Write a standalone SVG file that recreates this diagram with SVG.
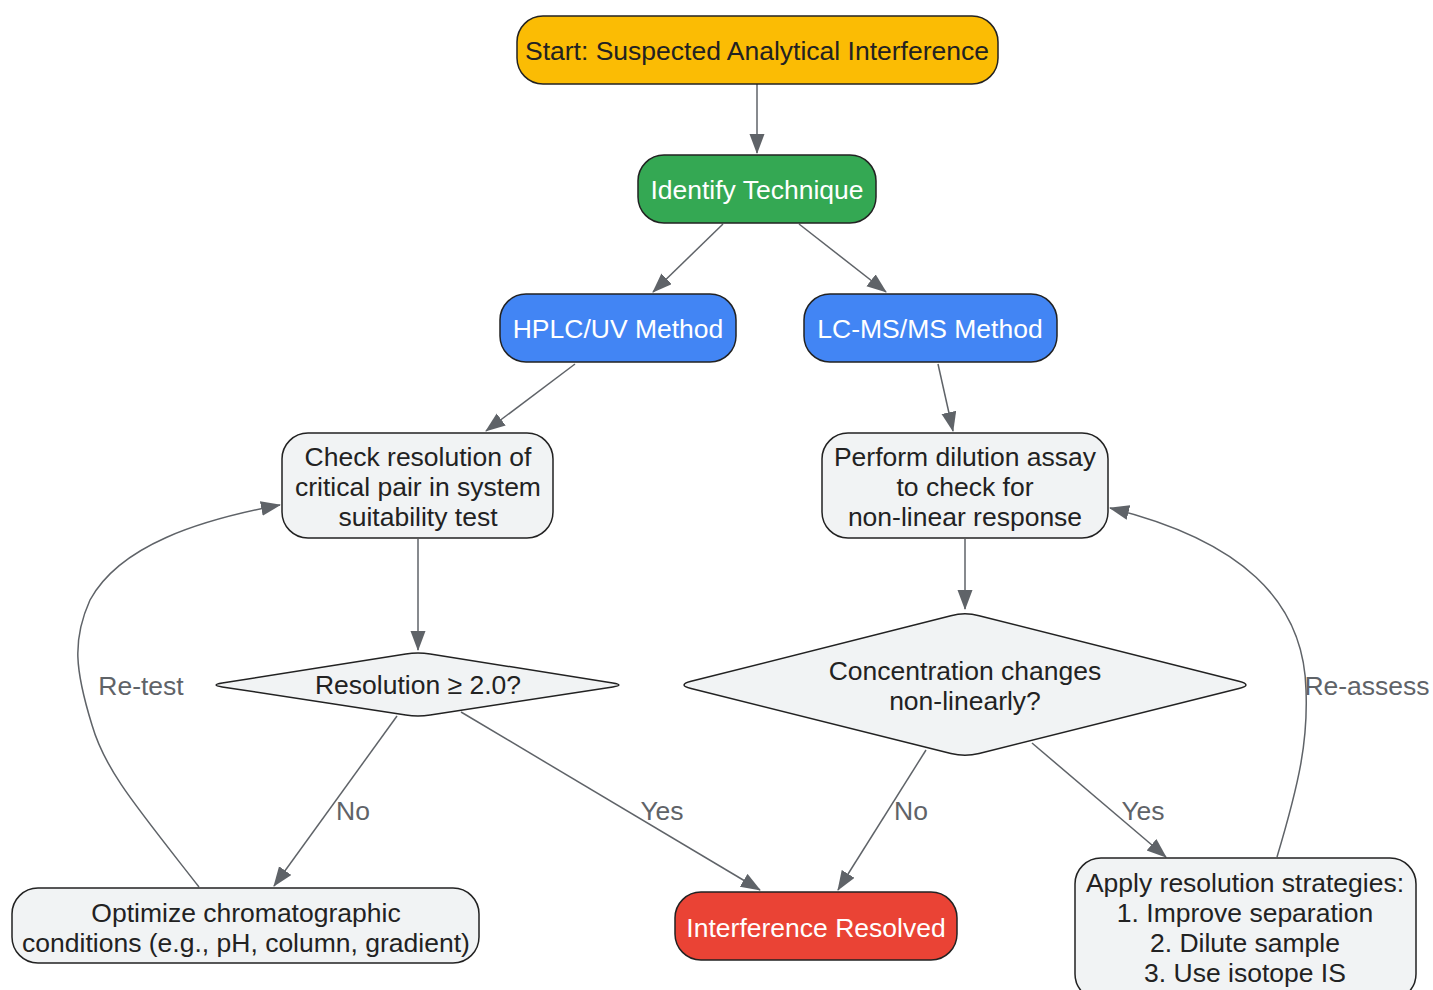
<svg xmlns="http://www.w3.org/2000/svg" width="1433" height="990" viewBox="0 0 1433 990">
<style>
  .node rect, .node path { stroke: #222; stroke-width: 1.5; }
  .t { font-family: "Liberation Sans", Arial, sans-serif; font-size: 26.5px; text-anchor: middle; }
  .dark { fill: #222; }
  .light { fill: #fff; }
  .grey { fill: #f1f3f4; }
  .edge { fill: none; stroke: #5f6368; stroke-width: 1.5; marker-end: url(#arr); }
  .lbl { font-family: "Liberation Sans", Arial, sans-serif; font-size: 26.5px; fill: #5f6368; text-anchor: middle; }
</style>
<defs>
  <marker id="arr" markerUnits="userSpaceOnUse" markerWidth="20" markerHeight="16" refX="19" refY="7.5" orient="auto">
    <path d="M0,0 L20,7.5 L0,15 z" fill="#5f6368"/>
  </marker>
</defs>
<rect width="1433" height="990" fill="#fff"/>
<g id="connectors">
  <path class="edge" d="M757,84 L757,153"/>
  <path class="edge" d="M723,224 L653,292"/>
  <path class="edge" d="M799,224 L886,292"/>
  <path class="edge" d="M575,364 L486,431"/>
  <path class="edge" d="M938,364 L953,431"/>
  <path class="edge" d="M418,539 L418,650"/>
  <path class="edge" d="M965,539 L965,609"/>
  <path class="edge" d="M397,716 L274,886"/>
  <path class="edge" d="M461,712 L760,890"/>
  <path class="edge" d="M926,750 L838,890"/>
  <path class="edge" d="M1032,743 L1166,857"/>
  <path class="edge" d="M199,887 C135,805 105,770 92,725 C75,670 72,640 90,600 C120,545 200,520 280,505"/>
  <path class="edge" d="M1277,857 C1300,780 1308,740 1306,690 C1304,600 1240,540 1110,508"/>
  <text class="lbl" x="353" y="820">No</text>
  <text class="lbl" x="662" y="820">Yes</text>
  <text class="lbl" x="911" y="820">No</text>
  <text class="lbl" x="1143" y="820">Yes</text>
  <text class="lbl" x="141" y="695">Re-test</text>
  <text class="lbl" x="1367" y="695">Re-assess</text>
</g>
<g id="start" class="node">
  <rect x="517" y="16" width="481" height="68" rx="26" fill="#fbbc04"/>
  <text class="t dark" x="757" y="60">Start: Suspected Analytical Interference</text>
</g>
<g id="identify" class="node">
  <rect x="638" y="155" width="238" height="68" rx="26" fill="#34a853"/>
  <text class="t light" x="757" y="199">Identify Technique</text>
</g>
<g id="hplc" class="node">
  <rect x="500" y="294" width="236" height="68" rx="26" fill="#4285f4"/>
  <text class="t light" x="618" y="338">HPLC/UV Method</text>
</g>
<g id="lcms" class="node">
  <rect x="804" y="294" width="253" height="68" rx="26" fill="#4285f4"/>
  <text class="t light" x="930" y="338">LC-MS/MS Method</text>
</g>
<g id="check" class="node">
  <rect x="282" y="433" width="271" height="105" rx="26" class="grey"/>
  <text class="t dark" x="418" y="466">Check resolution of</text>
  <text class="t dark" x="418" y="496">critical pair in system</text>
  <text class="t dark" x="418" y="526">suitability test</text>
</g>
<g id="perform" class="node">
  <rect x="822" y="433" width="286" height="105" rx="26" class="grey"/>
  <text class="t dark" x="965" y="466">Perform dilution assay</text>
  <text class="t dark" x="965" y="496">to check for</text>
  <text class="t dark" x="965" y="526">non-linear response</text>
</g>
<g id="resolution" class="node">
  <path class="grey" d="M222.2,683 L405.8,654 Q418,652 430.2,654 L612.8,683 Q625,685 612.8,686.9 L430.2,715.1 Q418,717 405.8,715.1 L222.2,686.9 Q210,685 222.2,683 Z"/>
  <text class="t dark" x="418" y="694">Resolution ≥ 2.0?</text>
</g>
<g id="concentration" class="node">
  <path class="grey" d="M691.1,681.35 L950.9,615.65 Q965,612 979.1,615.65 L1238.9,681.35 Q1253,685 1238.9,688.6 L979.1,753.4 Q965,757 950.9,753.4 L691.1,688.6 Q677,685 691.1,681.35 Z"/>
  <text class="t dark" x="965" y="680">Concentration changes</text>
  <text class="t dark" x="965" y="710">non-linearly?</text>
</g>
<g id="optimize" class="node">
  <rect x="12" y="888" width="467" height="75" rx="26" class="grey"/>
  <text class="t dark" x="246" y="922">Optimize chromatographic</text>
  <text class="t dark" x="246" y="952">conditions (e.g., pH, column, gradient)</text>
</g>
<g id="resolved" class="node">
  <rect x="675" y="892" width="282" height="68" rx="26" fill="#ea4335"/>
  <text class="t light" x="816" y="937">Interference Resolved</text>
</g>
<g id="apply" class="node">
  <rect x="1075" y="858" width="341" height="142" rx="26" class="grey"/>
  <text class="t dark" x="1245" y="892">Apply resolution strategies:</text>
  <text class="t dark" x="1245" y="922">1. Improve separation</text>
  <text class="t dark" x="1245" y="952">2. Dilute sample</text>
  <text class="t dark" x="1245" y="982">3. Use isotope IS</text>
</g>
</svg>
